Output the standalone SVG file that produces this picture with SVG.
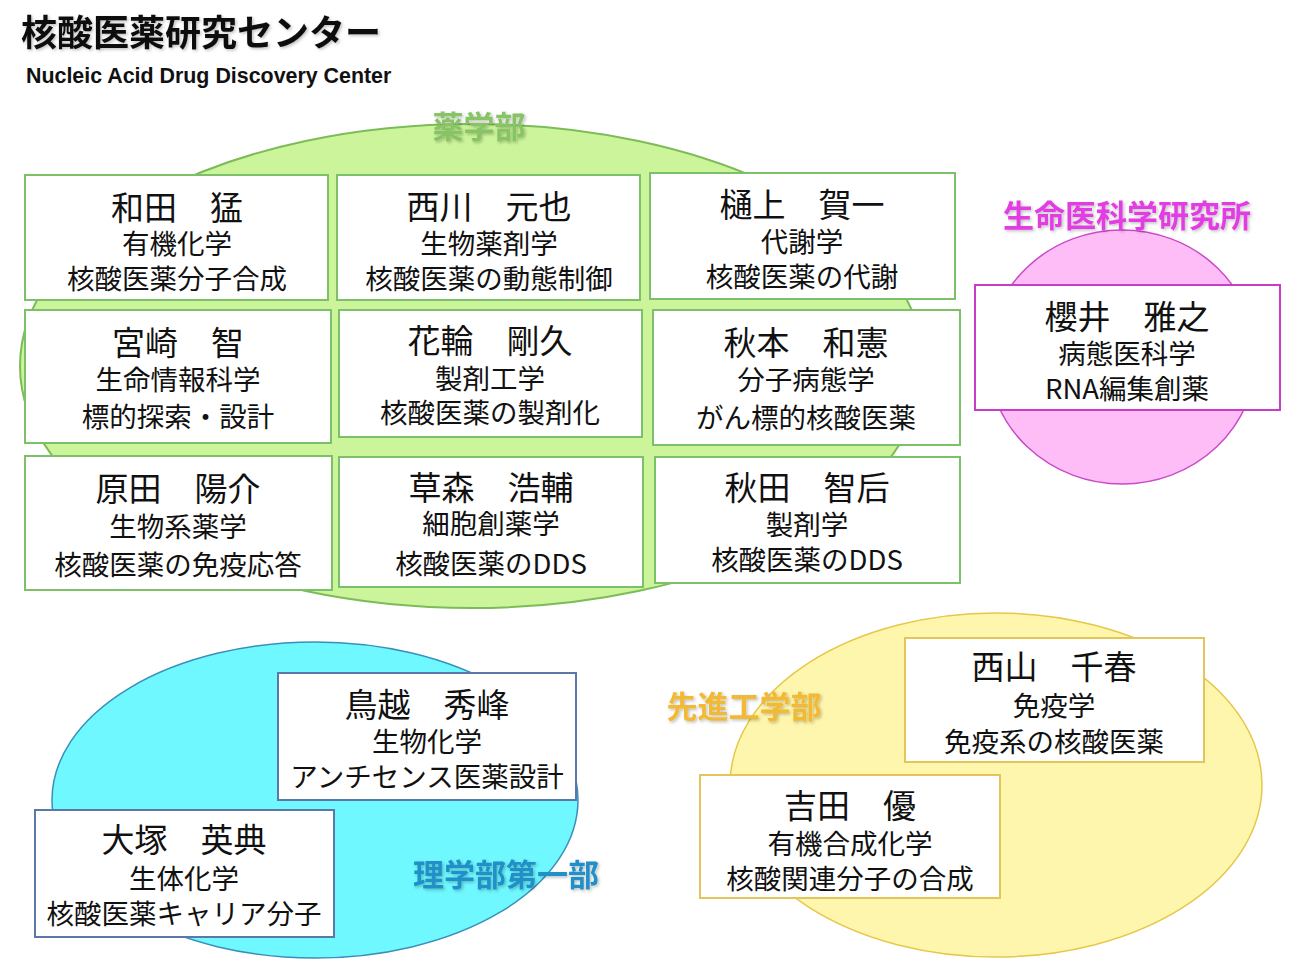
<svg xmlns="http://www.w3.org/2000/svg" width="1299" height="974" viewBox="0 0 1299 974">
<defs>
<filter id="sh" x="-10%" y="-20%" width="130%" height="160%">
<feDropShadow dx="1.5" dy="1.5" stdDeviation="1.5" flood-color="#000" flood-opacity="0.25"/>
</filter>
<style>
text{font-family:"Noto Sans CJK JP","Noto Sans",sans-serif;text-anchor:middle;dominant-baseline:central;fill:#111}
.nm{font-size:33px}
.ln{font-size:27.5px}
.lbl{font-size:31px;font-weight:bold;filter:url(#sh)}
.box{fill:#fff;stroke-width:2}
.g{stroke:#7cc06a}
.p{stroke:#c83cc8}
.b{stroke:#5a78a8}
.y{stroke:#e3c55a}
</style>
</defs>
<rect width="1299" height="974" fill="#fff"/>
<text x="21" y="30" style="text-anchor:start;font-size:36px;font-weight:bold;filter:url(#sh)">核酸医薬研究センター</text>
<text x="26" y="76" style="text-anchor:start;font-family:'Liberation Sans',Arial,sans-serif;font-size:21.4px;font-weight:bold">Nucleic Acid Drug Discovery Center</text>

<g id="region-yakugaku">
<ellipse cx="472" cy="366" rx="452" ry="242" fill="#ccf59b" stroke="#7cbc58" stroke-width="2"/>
<text class="lbl" x="479" y="124" style="fill:#88c466">薬学部</text>
</g>
<g id="region-seimei">
<ellipse cx="1122" cy="357" rx="134" ry="127" fill="#ffbdf7" stroke="#c84ac8" stroke-width="1.5"/>
<text class="lbl" x="1127" y="213" style="fill:#e23ee2">生命医科学研究所</text>
</g>
<g id="region-rigaku">
<ellipse cx="315" cy="800" rx="263" ry="158" fill="#6ff8ff" stroke="#3a8fb8" stroke-width="1.5"/>
</g>
<g id="region-senshin">
<ellipse cx="996" cy="785" rx="266" ry="172" fill="#fff6ad" stroke="#e6c74a" stroke-width="1.5"/>
</g>

<g id="n-wada"><rect class="box g" x="25" y="175" width="303" height="125"/>
<text class="nm" x="177" y="206">和田　猛</text><text class="ln" x="177" y="242">有機化学</text><text class="ln" x="177" y="277">核酸医薬分子合成</text></g>
<g id="n-nishikawa"><rect class="box g" x="337" y="175" width="303" height="125"/>
<text class="nm" x="489" y="205">西川　元也</text><text class="ln" x="489" y="242">生物薬剤学</text><text class="ln" x="489" y="277">核酸医薬の動態制御</text></g>
<g id="n-higami"><rect class="box g" x="650" y="173" width="305" height="126"/>
<text class="nm" x="802" y="203">樋上　賀一</text><text class="ln" x="802" y="240">代謝学</text><text class="ln" x="802" y="275">核酸医薬の代謝</text></g>

<g id="n-miyazaki"><rect class="box g" x="25" y="310" width="306" height="133"/>
<text class="nm" x="178" y="341">宮崎　智</text><text class="ln" x="178" y="378">生命情報科学</text><text class="ln" x="178" y="415">標的探索・設計</text></g>
<g id="n-hanawa"><rect class="box g" x="339" y="310" width="303" height="127"/>
<text class="nm" x="490" y="339">花輪　剛久</text><text class="ln" x="490" y="377">製剤工学</text><text class="ln" x="490" y="411">核酸医薬の製剤化</text></g>
<g id="n-akimoto"><rect class="box g" x="653" y="310" width="307" height="135"/>
<text class="nm" x="806" y="341">秋本　和憲</text><text class="ln" x="806" y="378">分子病態学</text><text class="ln" x="806" y="416">がん標的核酸医薬</text></g>

<g id="n-harada"><rect class="box g" x="25" y="456" width="307" height="134"/>
<text class="nm" x="178" y="487">原田　陽介</text><text class="ln" x="178" y="525">生物系薬学</text><text class="ln" x="178" y="563">核酸医薬の免疫応答</text></g>
<g id="n-kusamori"><rect class="box g" x="339" y="457" width="304" height="130"/>
<text class="nm" x="491" y="486">草森　浩輔</text><text class="ln" x="491" y="522">細胞創薬学</text><text class="ln" x="491" y="562">核酸医薬のDDS</text></g>
<g id="n-akita"><rect class="box g" x="655" y="457" width="305" height="126"/>
<text class="nm" x="807" y="486">秋田　智后</text><text class="ln" x="807" y="523">製剤学</text><text class="ln" x="807" y="558">核酸医薬のDDS</text></g>

<g id="n-sakurai"><rect class="box p" x="975" y="285" width="305" height="125"/>
<text class="nm" x="1127" y="315">櫻井　雅之</text><text class="ln" x="1127" y="352">病態医科学</text><text class="ln" x="1127" y="387">RNA編集創薬</text></g>

<g id="n-torigoe"><rect class="box b" x="278" y="673" width="298" height="127"/>
<text class="nm" x="427" y="703">鳥越　秀峰</text><text class="ln" x="427" y="740">生物化学</text><text class="ln" x="427" y="775">アンチセンス医薬設計</text></g>
<g id="n-otsuka"><rect class="box b" x="35" y="810" width="299" height="127"/>
<text class="nm" x="184" y="838">大塚　英典</text><text class="ln" x="184" y="877">生体化学</text><text class="ln" x="184" y="912">核酸医薬キャリア分子</text></g>
<text class="lbl" x="506" y="872" style="fill:#2490c8">理学部第一部</text>

<g id="n-nishiyama"><rect class="box y" x="905" y="638" width="299" height="124"/>
<text class="nm" x="1054" y="665">西山　千春</text><text class="ln" x="1054" y="704">免疫学</text><text class="ln" x="1054" y="740">免疫系の核酸医薬</text></g>
<g id="n-yoshida"><rect class="box y" x="700" y="775" width="300" height="123"/>
<text class="nm" x="850" y="804">吉田　優</text><text class="ln" x="850" y="842">有機合成化学</text><text class="ln" x="850" y="877">核酸関連分子の合成</text></g>
<text class="lbl" x="744" y="704" style="fill:#f1b934">先進工学部</text>

<g id="connectors"/>
</svg>
